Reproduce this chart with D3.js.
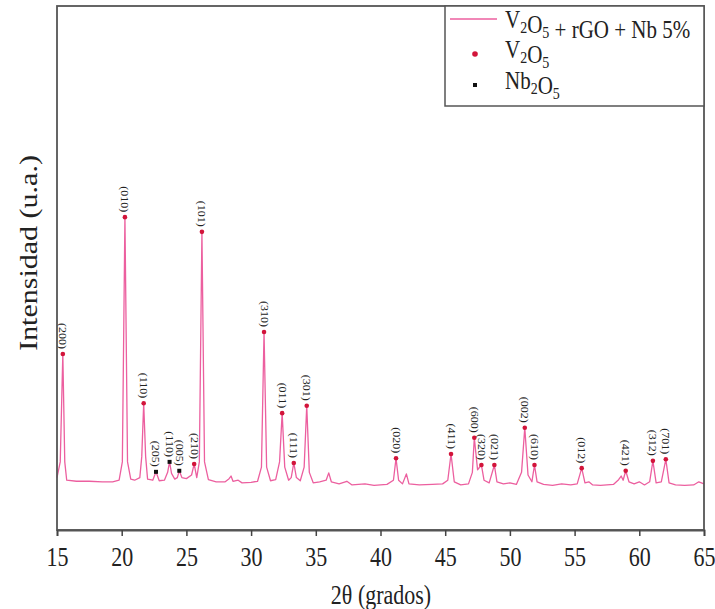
<!DOCTYPE html>
<html>
<head>
<meta charset="utf-8">
<script src="https://cdn.jsdelivr.net/npm/d3@7"></script>
<style>
  body { margin: 0; background: #fff; }
  svg { display: block; font-family: "Liberation Serif", "Times New Roman", serif; }
</style>
</head>
<body>
<svg id="chart"></svg>
<script>
// XRD pattern: [2theta, intensity (a.u.)]
var spectrum = [
  [15.0, 100], [15.25, 130], [15.45, 336], [15.6, 130], [15.75, 95], [16.5, 93], [17.5, 93],
  [18.5, 92], [19.3, 92], [19.8, 95], [20.05, 130], [20.25, 597], [20.45, 130], [20.7, 97],
  [21.0, 95], [21.4, 100], [21.55, 140], [21.7, 242], [21.85, 140], [22.0, 97], [22.4, 95],
  [22.65, 111], [22.9, 94], [23.3, 95], [23.55, 110], [23.7, 130], [23.85, 108], [24.1, 97],
  [24.3, 100], [24.45, 113], [24.65, 100], [25.0, 98], [25.4, 105], [25.6, 126], [25.8, 100],
  [26.0, 130], [26.2, 569], [26.4, 130], [26.7, 96], [27.3, 92], [28.0, 92], [28.3, 98],
  [28.45, 103], [28.6, 93], [29.0, 95], [29.3, 90], [30.0, 91], [30.5, 93], [30.8, 120],
  [31.0, 378], [31.2, 120], [31.5, 94], [31.9, 96], [32.2, 130], [32.4, 223], [32.6, 120],
  [32.9, 95], [33.1, 100], [33.3, 128], [33.5, 100], [33.8, 94], [34.1, 120], [34.3, 237],
  [34.5, 110], [34.8, 90], [35.3, 92], [35.8, 95], [36.0, 109], [36.2, 92], [36.8, 88],
  [37.4, 93], [37.8, 86], [38.8, 88], [39.5, 85], [40.5, 87], [41.0, 95], [41.2, 137],
  [41.4, 95], [41.7, 88], [42.0, 107], [42.2, 88], [43.0, 86], [44.0, 87], [44.8, 88],
  [45.2, 95], [45.45, 145], [45.7, 92], [46.2, 86], [46.8, 88], [47.1, 110], [47.25, 176],
  [47.5, 115], [47.8, 124], [48.0, 95], [48.4, 90], [48.8, 124], [49.0, 92], [49.5, 88],
  [50.0, 90], [50.5, 87], [50.9, 110], [51.15, 195], [51.4, 105], [51.7, 92], [51.9, 124],
  [52.1, 92], [52.6, 87], [53.3, 85], [54.0, 88], [54.7, 86], [55.2, 88], [55.55, 118],
  [55.8, 90], [56.1, 92], [56.4, 86], [57.0, 85], [58.0, 87], [58.4, 96], [58.6, 103],
  [58.75, 95], [58.95, 113], [59.2, 92], [59.6, 88], [60.0, 92], [60.4, 86], [60.8, 92],
  [61.05, 132], [61.3, 90], [61.7, 92], [62.05, 135], [62.3, 90], [62.8, 86], [63.5, 85],
  [64.2, 86], [64.6, 92], [64.8, 90], [65.0, 88]
];

// V2O5 reflections
var v2o5Theta = [15.45, 20.25, 21.7, 25.6, 26.2, 31.0, 32.4, 33.3, 34.3, 41.2,
                 45.45, 47.25, 47.8, 48.8, 51.15, 51.9, 55.55, 58.95, 61.05, 62.05];
var v2o5Int = [336, 597, 242, 126, 569, 378, 223, 128, 237, 137,
               145, 176, 124, 124, 195, 124, 118, 113, 132, 135];
var v2o5Labels = ["(200)", "(010)", "(110)", "(210)", "(101)", "(310)", "(011)", "(111)", "(301)", "(020)",
                  "(411)", "(600)", "(320)", "(021)", "(002)", "(610)", "(012)", "(421)", "(312)", "(701)"];

// Nb2O5 reflections
var nbTheta = [22.65, 23.7, 24.45];
var nbInt = [111, 130, 113];
var nbLabels = ["(205)", "(110)", "(005)"];

var xTicks = [15, 20, 25, 30, 35, 40, 45, 50, 55, 60, 65];

var width = 715, height = 609;
var pLeft = 57, pRight = 704, pTop = 6, pBottom = 530;
var pink = "#ec5f9f", red = "#d2143a";
var vs = 1.2; // text in the picture is a bit taller than wide

var svg = d3.select("#chart").attr("width", width).attr("height", height);

var x = d3.scaleLinear().domain([15, 65]).range([pLeft, pRight]);
var y = d3.scaleLinear().domain([0, 1000]).range([pBottom, pTop]);

// curve
var line = d3.line()
  .x(function(d) { return x(d[0]); })
  .y(function(d) { return y(d[1]); });

svg.append("path")
  .datum(spectrum)
  .attr("d", line)
  .attr("fill", "none")
  .attr("stroke", pink)
  .attr("stroke-width", 1.3)
  .attr("stroke-linejoin", "round");

// markers + labels
function peakLabel(t, v, txt) {
  var px = x(t), py = y(v) - 5;
  svg.append("text")
    .attr("transform", "translate(" + px + "," + py + ") scale(1," + vs + ") rotate(90)")
    .attr("text-anchor", "end")
    .attr("dy", "0.35em")
    .attr("font-size", 10)
    .attr("fill", "#222")
    .text(txt);
}

v2o5Theta.forEach(function(t, i) {
  svg.append("circle")
    .attr("cx", x(t)).attr("cy", y(v2o5Int[i]))
    .attr("r", 2.3).attr("fill", red);
  peakLabel(t, v2o5Int[i], v2o5Labels[i]);
});

nbTheta.forEach(function(t, i) {
  svg.append("rect")
    .attr("x", x(t) - 2).attr("y", y(nbInt[i]) - 2)
    .attr("width", 4).attr("height", 4)
    .attr("fill", "#111");
  peakLabel(t, nbInt[i], nbLabels[i]);
});

// frame
svg.append("rect")
  .attr("x", pLeft).attr("y", pTop)
  .attr("width", pRight - pLeft).attr("height", pBottom - pTop)
  .attr("fill", "none").attr("stroke", "#555").attr("stroke-width", 1.8);

// bottom axis
var xAxis = svg.append("g")
  .attr("transform", "translate(0," + pBottom + ")")
  .call(d3.axisBottom(x).tickValues(xTicks).tickSize(6).tickFormat(d3.format("d")));
xAxis.select(".domain").attr("stroke", "#555").attr("stroke-width", 1.8);
xAxis.selectAll(".tick line").attr("stroke", "#444").attr("stroke-width", 1.5);
xAxis.selectAll(".tick text")
  .attr("y", 14)
  .attr("dy", "0.71em")
  .attr("transform", "scale(1," + vs + ")")
  .attr("font-family", "Liberation Serif, serif")
  .attr("font-size", 22)
  .attr("fill", "#222");

// axis titles
svg.append("text")
  .attr("transform", "translate(381,604) scale(1," + vs + ")")
  .attr("text-anchor", "middle")
  .attr("font-size", 22)
  .attr("fill", "#222")
  .text("2θ (grados)");

svg.append("text")
  .attr("transform", "translate(37,253) scale(1," + vs + ") rotate(-90)")
  .attr("text-anchor", "middle")
  .attr("font-size", 25)
  .attr("fill", "#222")
  .text("Intensidad (u.a.)");

// legend
var lg = svg.append("g");
lg.append("rect")
  .attr("x", 445).attr("y", pTop)
  .attr("width", pRight - 445).attr("height", 100)
  .attr("fill", "#fff").attr("stroke", "#555").attr("stroke-width", 1.5);

lg.append("line")
  .attr("x1", 450).attr("x2", 497).attr("y1", 19).attr("y2", 19)
  .attr("stroke", pink).attr("stroke-width", 1.5);
lg.append("circle").attr("cx", 475).attr("cy", 54).attr("r", 2.8).attr("fill", red);
lg.append("rect").attr("x", 473).attr("y", 83).attr("width", 4).attr("height", 4).attr("fill", "#111");

function formula(yb, parts) {
  var t = lg.append("text")
    .attr("transform", "translate(505," + yb + ") scale(1," + vs + ")")
    .attr("font-size", 21)
    .attr("fill", "#222");
  parts.forEach(function(p) {
    if (p.sub) {
      t.append("tspan").attr("font-size", 14).attr("dy", 4).text(p.sub);
      t.append("tspan").attr("dy", -4).text("");
    } else {
      t.append("tspan").text(p.txt);
    }
  });
}
formula(28, [{txt: "V"}, {sub: "2"}, {txt: "O"}, {sub: "5"}, {txt: " + rGO + Nb 5%"}]);
formula(58, [{txt: "V"}, {sub: "2"}, {txt: "O"}, {sub: "5"}]);
formula(89, [{txt: "Nb"}, {sub: "2"}, {txt: "O"}, {sub: "5"}]);
</script>
</body>
</html>
